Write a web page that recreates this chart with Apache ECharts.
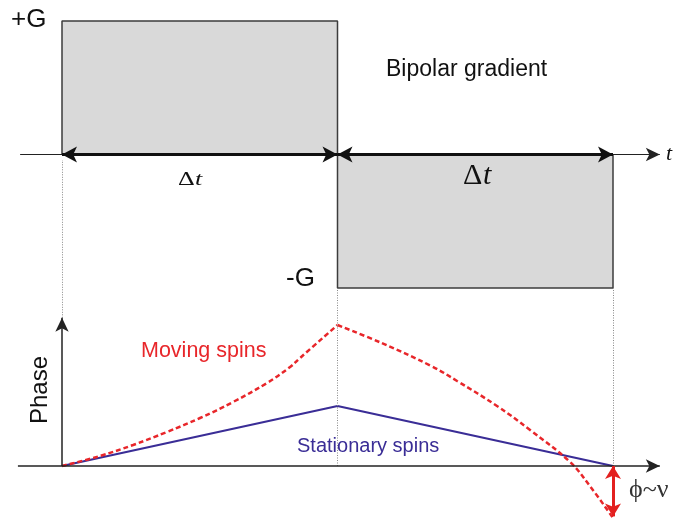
<!DOCTYPE html>
<html>
<head>
<meta charset="utf-8">
<script src="https://cdn.jsdelivr.net/npm/echarts@6/dist/echarts.min.js"></script>
<style>html,body{margin:0;padding:0;background:#fff;}#c{width:675px;height:518px;}</style>
</head>
<body>
<div id="c"></div>
<script>
// Gradient waveform (time in units of Δt, gradient in units of G)
const gradT = [0, 0, 1, 1, 2, 2];
const gradG = [0, 1, 1, -1, -1, 0];
// Stationary spins phase
const statT = [0, 1, 2];
const statPhase = [0, 1, 0];
// Moving spins phase: first lobe (0..Δt) and second lobe (Δt..2Δt)
const movT1 = [0, 0.138, 0.258, 0.381, 0.501, 0.621, 0.744, 0.828, 0.864, 1.0];
const movPhase1 = [0, 0.167, 0.35, 0.567, 0.8, 1.067, 1.383, 1.65, 1.8, 2.35];
const movT2 = [1.0, 1.16, 1.34, 1.434, 1.579, 1.699, 1.844, 1.916, 2.0];
const movPhase2 = [2.35, 2.05, 1.667, 1.417, 1.0, 0.6, 0.067, -0.333, -0.867];
// phase difference arrow (moving vs stationary at t = 2Δt)
const phiDiff = -0.84;

const zip = (a, b) => a.map((v, i) => [v, b[i]]);

const chart = echarts.init(document.getElementById('c'), null, {renderer: 'canvas'});
const xmin = -62 / 275.5, xmax = 2 + 62 / 275.5;
const sans = '"Liberation Sans", Arial, sans-serif';
const serif = '"Liberation Serif", "Times New Roman", serif';
const movStyle = {color: '#e8262a', width: 2.5, type: [5, 3]};

chart.setOption({
  animation: false,
  backgroundColor: '#fff',
  grid: [
    {left: 0, right: 0, top: 17, height: 271},
    {left: 0, right: 0, top: 156, bottom: 0}
  ],
  xAxis: [
    {type: 'value', gridIndex: 0, min: xmin, max: xmax, show: false},
    {type: 'value', gridIndex: 1, min: xmin, max: xmax, show: false}
  ],
  yAxis: [
    {type: 'value', gridIndex: 0, min: -1, max: 1.03, show: false},
    {type: 'value', gridIndex: 1, min: -0.867, max: 5.167, show: false}
  ],
  series: [
    {
      type: 'line', xAxisIndex: 0, yAxisIndex: 0,
      data: zip(gradT, gradG), symbol: 'none', clip: false,
      lineStyle: {color: '#3c3c3c', width: 1.5},
      areaStyle: {color: '#d9d9d9', opacity: 1},
      markLine: {
        silent: true, animation: false,
        label: {show: false},
        data: [
          [{coord: [-0.152, 0], symbol: 'none', lineStyle: {color: '#222', width: 1.2, type: 'solid'}},
           {coord: [2.17, 0], symbol: 'arrow', symbolSize: [10, 14]}],
          [{coord: [0, 0], symbol: 'arrow', symbolSize: [12, 15], lineStyle: {color: '#111', width: 3, type: 'solid'}},
           {coord: [1, 0], symbol: 'arrow', symbolSize: [12, 15]}],
          [{coord: [1, 0], symbol: 'arrow', symbolSize: [12, 15], lineStyle: {color: '#111', width: 3, type: 'solid'}},
           {coord: [2, 0], symbol: 'arrow', symbolSize: [12, 15]}]
        ]
      }
    },
    {
      type: 'line', xAxisIndex: 1, yAxisIndex: 1,
      data: zip(statT, statPhase), symbol: 'none',
      lineStyle: {color: '#3a2d96', width: 2.2},
      markLine: {
        silent: true, animation: false,
        label: {show: false},
        data: [
          [{coord: [0, 2.47], symbol: 'none', lineStyle: {color: '#888', width: 1, type: [1, 1.5]}},
           {coord: [0, 5.1], symbol: 'none'}],
          [{coord: [1, 0], symbol: 'none', lineStyle: {color: '#888', width: 1, type: [1, 1.5]}},
           {coord: [1, 2.967], symbol: 'none'}],
          [{coord: [2, 0], symbol: 'none', lineStyle: {color: '#888', width: 1, type: [1, 1.5]}},
           {coord: [2, 2.967], symbol: 'none'}],
          [{coord: [-0.16, 0], symbol: 'none', lineStyle: {color: '#222', width: 1.5, type: 'solid'}},
           {coord: [2.17, 0], symbol: 'arrow', symbolSize: [10, 14]}],
          [{coord: [0, 0], symbol: 'none', lineStyle: {color: '#222', width: 1.5, type: 'solid'}},
           {coord: [0, 2.47], symbol: 'arrow', symbolSize: [10, 14]}]
        ]
      }
    },
    {
      type: 'line', xAxisIndex: 1, yAxisIndex: 1,
      data: zip(movT1, movPhase1), symbol: 'none', smooth: 0.4, clip: false,
      lineStyle: movStyle
    },
    {
      type: 'line', xAxisIndex: 1, yAxisIndex: 1,
      data: zip(movT2, movPhase2), symbol: 'none', smooth: 0.4, clip: false,
      lineStyle: movStyle,
      markLine: {
        silent: true, animation: false,
        label: {show: false},
        data: [
          [{coord: [2, 0], symbol: 'arrow', symbolSize: [12, 13], lineStyle: {color: '#e3201f', width: 3, type: 'solid'}},
           {coord: [2, phiDiff], symbol: 'arrow', symbolSize: [12, 13]}]
        ]
      }
    }
  ],
  graphic: [
    {type: 'text', z: 100, left: 11, top: 7, style: {text: '+G', font: '26px ' + sans, fill: '#111'}},
    {type: 'text', z: 100, left: 286, top: 266, style: {text: '-G', font: '26px ' + sans, fill: '#111'}},
    {type: 'text', z: 100, left: 386, top: 58, style: {text: 'Bipolar gradient', font: '23px ' + sans, fill: '#111'}},
    {type: 'text', z: 100, left: 666, top: 143, style: {text: 't', font: 'italic 22px ' + serif, fill: '#111'}},
    {type: 'text', z: 100, x: 178, y: 190, scaleY: 0.75, style: {text: 'Δ', font: '26px ' + serif, fill: '#111', textVerticalAlign: 'bottom'}},
    {type: 'text', z: 100, x: 195, y: 190, scaleY: 0.75, style: {text: 't', font: 'italic 26px ' + serif, fill: '#111', textVerticalAlign: 'bottom'}},
    {type: 'text', z: 100, x: 463, y: 191, style: {text: 'Δ', font: '30px ' + serif, fill: '#111', textVerticalAlign: 'bottom'}},
    {type: 'text', z: 100, x: 483, y: 191, style: {text: 't', font: 'italic 30px ' + serif, fill: '#111', textVerticalAlign: 'bottom'}},
    {type: 'text', z: 100, x: 52, y: 390, rotation: Math.PI / 2, style: {text: 'Phase', font: '24px ' + sans, fill: '#111', textAlign: 'center', textVerticalAlign: 'bottom'}},
    {type: 'text', z: 100, left: 141, top: 340, style: {text: 'Moving spins', font: '21.5px ' + sans, fill: '#e8262a'}},
    {type: 'text', z: 100, left: 297, top: 436, style: {text: 'Stationary spins', font: '20px ' + sans, fill: '#3a2d96'}},
    {type: 'text', z: 100, left: 629, top: 477, style: {text: 'ϕ~ν', font: '26px ' + serif, fill: '#333'}}
  ]
});
</script>
</body>
</html>
